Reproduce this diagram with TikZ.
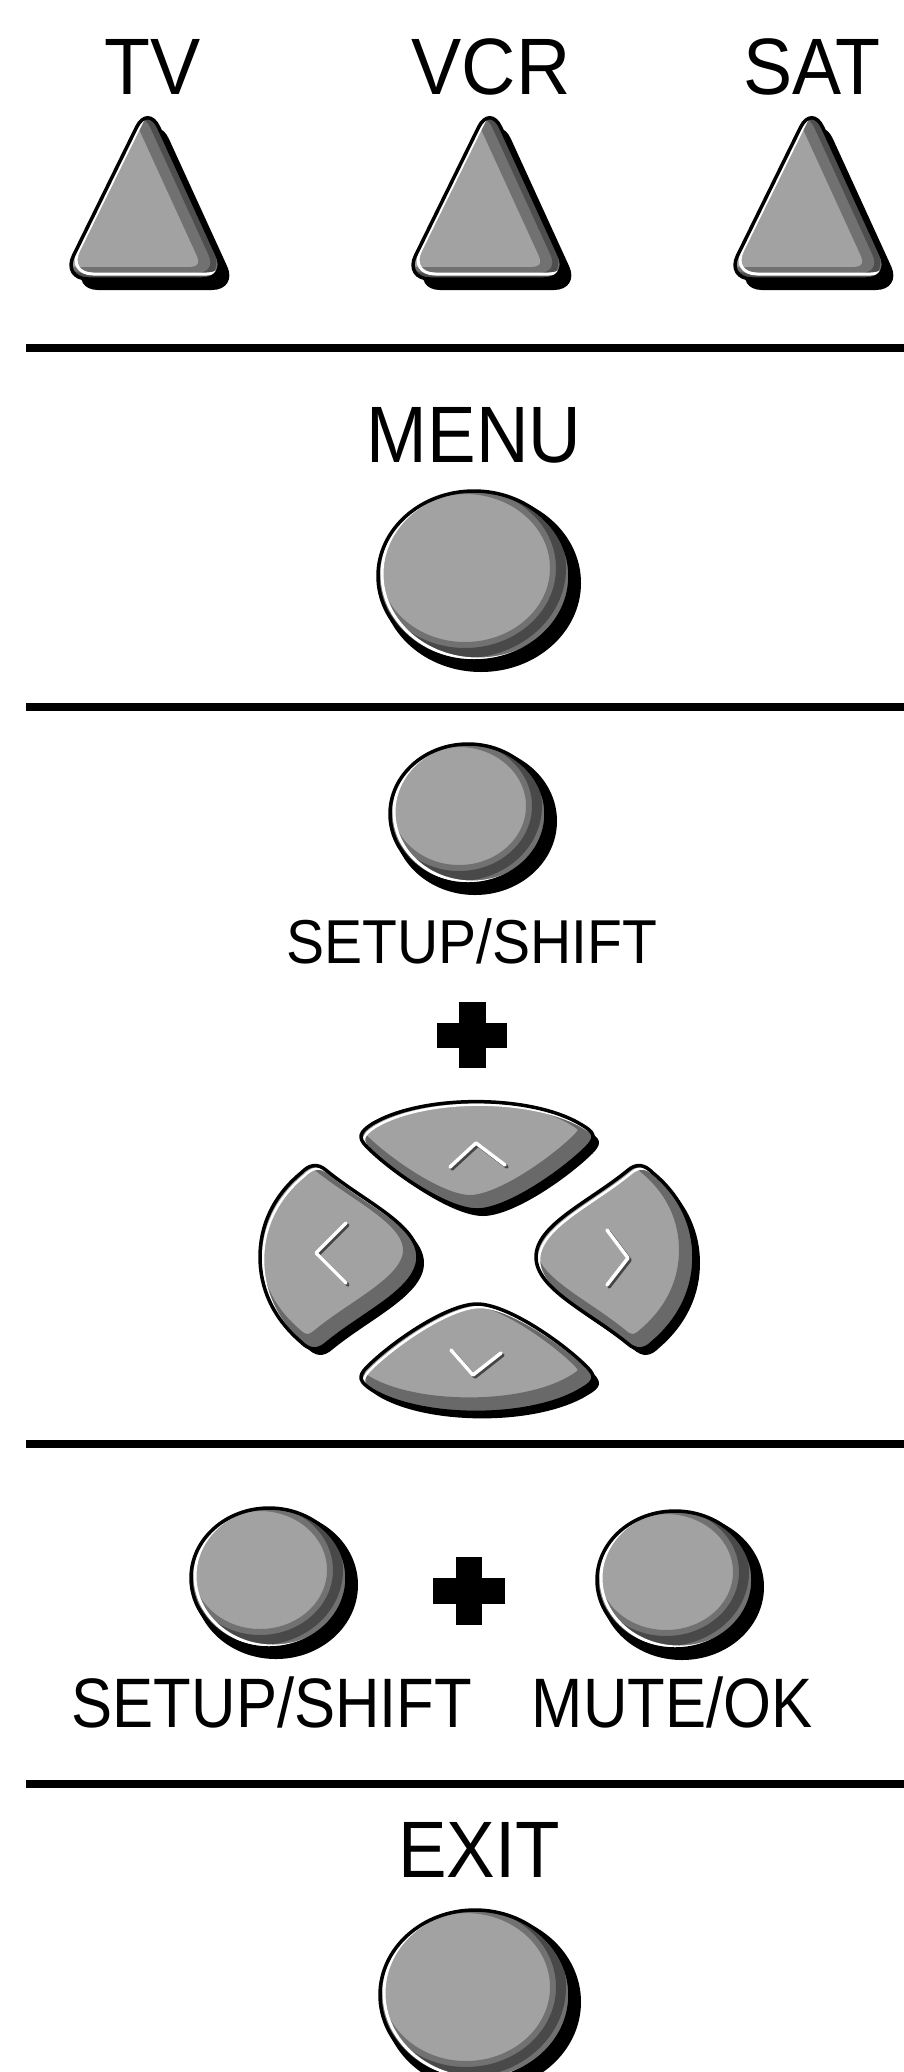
\documentclass[tikz,border=0pt]{standalone}
\usepackage{fontspec}
\setmainfont{Liberation Sans}
\definecolor{btngray}{RGB}{162,162,162}
\definecolor{chevdark}{RGB}{70,70,70}
\tikzset{
  biglbl/.style={inner sep=0pt, anchor=base, font=\fontsize{80}{90}\selectfont},
  midlbl/.style={inner sep=0pt, anchor=base, font=\fontsize{70}{80}\selectfont},
  smalllbl/.style={inner sep=0pt, anchor=base, font=\fontsize{62}{70}\selectfont},
  sepline/.style={line width=8pt},
  chev/.style={white, line width=3.5pt, line cap=round, line join=round},
  chevsh/.style={chevdark, line width=3.5pt, line cap=round, line join=round},
  tricorner/.style={rounded corners=26pt},
}
% round button: cx cy half-width half-height
\newcommand\RoundBtn[4]{%
  \pgfmathsetmacro\rbSx{#1+3}\pgfmathsetmacro\rbSy{#2+3}%
  \pgfmathsetmacro\rbSa{#3-3}\pgfmathsetmacro\rbSb{#4-3}%
  \pgfmathsetmacro\rbFx{#1-4}\pgfmathsetmacro\rbFy{#2-4}%
  \pgfmathsetmacro\rbFa{#3-7}\pgfmathsetmacro\rbFb{#4-7}%
  \pgfmathsetmacro\rbDx{#1-13}\pgfmathsetmacro\rbDy{#2-12}%
  \pgfmathsetmacro\rbWx{#1}\pgfmathsetmacro\rbWy{#2-6}%
  \fill[black] (\rbSx,\rbSy) ellipse [x radius=\rbSa, y radius=\rbSb];
  \begin{scope}
    \clip (\rbFx,\rbFy) ellipse [x radius=\rbFa, y radius=\rbFb];
    \fill[btngray] (\rbFx,\rbFy) ellipse [x radius=\rbFa, y radius=\rbFb];
    \draw[black, opacity=.3, line width=22pt] (\rbDx,\rbDy) ellipse [x radius=\rbFa, y radius=\rbFb];
    \draw[black, opacity=.35, line width=10pt] (\rbDx,\rbDy) ellipse [x radius=\rbFa, y radius=\rbFb];
    \draw[white, line width=3pt] (\rbWx,\rbWy) ellipse [x radius=\rbFa, y radius=\rbFb];
  \end{scope}
  \draw[black, line width=3.5pt] (\rbFx,\rbFy) ellipse [x radius=\rbFa, y radius=\rbFb];
}
% triangle button with apex x; #2,#3 offset
\newcommand\TriPath[3]{(#1+#2,104+#3) -- (#1+80+#2,279+#3) -- (#1-86+#2,279+#3) -- cycle}
\newcommand\TriBtn[1]{%
  \fill[black, tricorner] \TriPath{#1}{10}{11};
  \begin{scope}
    \clip[tricorner] \TriPath{#1}{0}{0};
    \fill[btngray] (#1-100,80) rectangle (#1+100,300);
    \draw[black, opacity=.3, line width=18pt, tricorner] \TriPath{#1}{-12}{-3};
    \draw[black, opacity=.3, line width=8pt, tricorner] \TriPath{#1}{-5}{-2};
    \draw[white, line width=3pt, tricorner] \TriPath{#1}{5}{-5};
  \end{scope}
  \draw[black, line width=3.5pt, tricorner] \TriPath{#1}{0}{0};
}
% d-pad paths (local coordinates, centre of pad at origin)
\newcommand\UpPath{(-105,-133) .. controls (-55,-163) and (55,-163) .. (105,-132)
  .. controls (117,-125) and (120,-120) .. (110,-110)
  .. controls (85,-85) and (30,-47) .. (0,-47)
  .. controls (-30,-47) and (-85,-85) .. (-110,-110)
  .. controls (-120,-120) and (-117,-125) .. cycle}
\newcommand\LeftPath{(-176,-84) .. controls (-205,-60) and (-217,-30) .. (-217,0)
  .. controls (-217,30) and (-205,60) .. (-176,85)
  .. controls (-168,93) and (-160,95) .. (-150,86)
  .. controls (-112,55) and (-59,32) .. (-59,0)
  .. controls (-59,-32) and (-112,-55) .. (-150,-86)
  .. controls (-160,-95) and (-168,-92) .. cycle}
% #1 path macro, #2 x-scale, #3 y-scale
\newcommand\PadBtn[3]{%
  \fill[black, shift={(483,1263)}, xscale=#2, yscale=#3] #1;
  \begin{scope}
    \clip[shift={(477,1257)}, xscale=#2, yscale=#3] #1;
    \fill[btngray, shift={(477,1257)}, xscale=#2, yscale=#3] #1;
    \draw[black, opacity=.35, line width=16pt, shift={(470,1250)}, xscale=#2, yscale=#3] #1;
    \draw[white, line width=2.5pt, shift={(480,1260)}, xscale=#2, yscale=#3] #1;
  \end{scope}
  \draw[black, line width=3.5pt, shift={(477,1257)}, xscale=#2, yscale=#3] #1;
}
\begin{document}
\begin{tikzpicture}[x=1pt, y=-1pt]
  \useasboundingbox (0,0) rectangle (904,2072);
  \clip (0,0) rectangle (904,2072);
  \fill[white] (0,0) rectangle (904,2072);

  % ---- row 1: TV VCR SAT ----
  \node[biglbl] (tv)  at (153,94) {\scalebox{0.94}[1]{TV}};
  \node[biglbl] (vcr) at (491,94) {\scalebox{0.94}[1]{VCR}};
  \node[biglbl] (sat) at (812,94) {\scalebox{0.92}[1]{SAT}};
  \TriBtn{148}
  \TriBtn{490}
  \TriBtn{812}
  \coordinate (l1a) at (26,348); \coordinate (l1b) at (904,348);
  \draw[sepline] (l1a) -- (l1b);

  % ---- MENU ----
  \node[biglbl] (menu) at (474,462) {\scalebox{0.91}[1]{MENU}};
  \RoundBtn{478}{580}{103}{92}
  \coordinate (l2a) at (26,707); \coordinate (l2b) at (904,707);
  \draw[sepline] (l2a) -- (l2b);

  % ---- SETUP/SHIFT + arrows ----
  \RoundBtn{472}{818}{85}{77}
  \node[smalllbl] (setup1) at (472,963) {\scalebox{0.92}[1]{SETUP/SHIFT}};
  \fill (437,1022.5) rectangle (507,1047.5);
  \fill (458.5,1002) rectangle (485.5,1068);
  \PadBtn{\UpPath}{1}{1}
  \PadBtn{\UpPath}{1}{-1}
  \PadBtn{\LeftPath}{1}{1}
  \PadBtn{\LeftPath}{-1}{1}
  % chevrons
  \draw[chevsh] (452,1169) -- (478,1145) -- (507,1167);
  \draw[chev]   (450,1167) -- (476,1143) -- (505,1165);
  \draw[chevsh] (348,1225) -- (318,1255) -- (348,1285);
  \draw[chev]   (346,1223) -- (316,1253) -- (346,1283);
  \draw[chevsh] (609,1232) -- (630,1260) -- (609,1287);
  \draw[chev]   (607,1230) -- (628,1258) -- (607,1285);
  \draw[chevsh] (453,1352) -- (475,1377) -- (503,1355);
  \draw[chev]   (451,1350) -- (473,1375) -- (501,1353);
  \coordinate (l3a) at (26,1444); \coordinate (l3b) at (904,1444);
  \draw[sepline] (l3a) -- (l3b);

  % ---- SETUP/SHIFT + MUTE/OK ----
  \RoundBtn{273}{1582}{85}{77}
  \RoundBtn{679}{1584}{85}{76}
  \fill (433,1578) rectangle (505,1604);
  \fill (456,1557) rectangle (482,1625);
  \node[midlbl] (setup2) at (272,1727) {\scalebox{0.88}[1]{SETUP/SHIFT}};
  \node[midlbl] (mute) at (672,1727) {\scalebox{0.88}[1]{MUTE/OK}};
  \coordinate (l4a) at (26,1784); \coordinate (l4b) at (904,1784);
  \draw[sepline] (l4a) -- (l4b);

  % ---- EXIT ----
  \node[biglbl] (exit) at (479,1877) {\scalebox{0.91}[1]{EXIT}};
  \RoundBtn{479}{1999}{102}{92}
\end{tikzpicture}
\end{document}
